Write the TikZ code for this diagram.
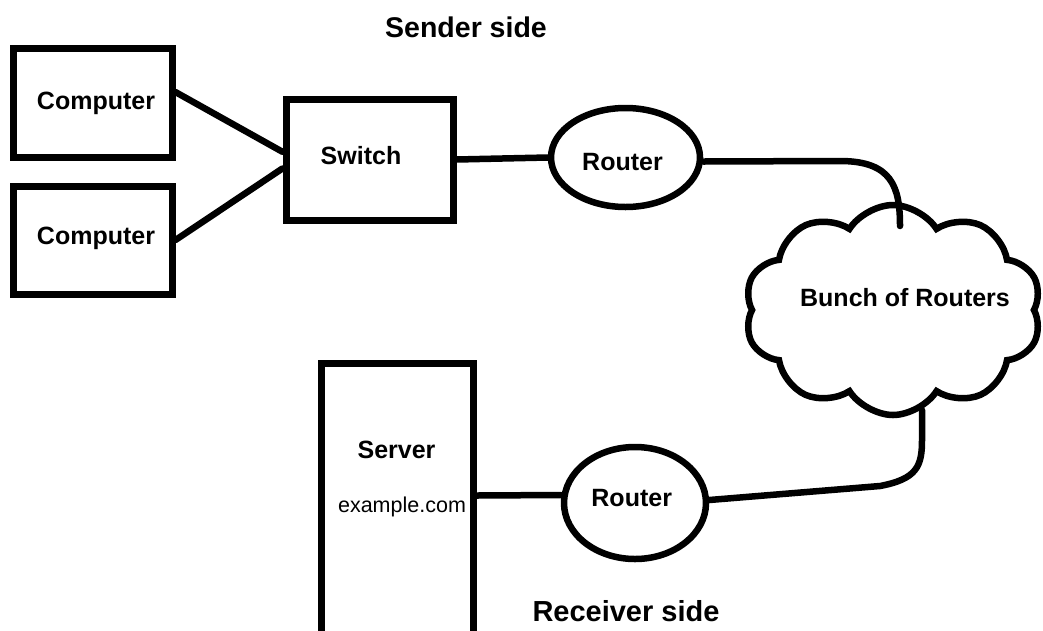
\documentclass[tikz,border=0pt]{standalone}
\usepackage{fontspec}
\setmainfont{Liberation Sans}
\usetikzlibrary{shapes.geometric,shapes.symbols,calc}
\tikzset{
  lbl/.style={font=\bfseries\fontsize{25}{29}\selectfont},
  boxnode/.style={draw, line width=7pt, rectangle, inner sep=0pt},
  routernode/.style={draw, line width=6.5pt, ellipse, inner sep=0pt},
  wire/.style={line width=6.5pt, line cap=round, line join=round},
  heading/.style={font=\bfseries\fontsize{28.5}{32}\selectfont, anchor=base}
}
\begin{document}
\begin{tikzpicture}[x=1pt, y=-1pt]
  \useasboundingbox (0,0) rectangle (1043,630);
  \clip (0,0) rectangle (1043,630);
  \fill[white] (0,0) rectangle (1043,630);

  % sender hosts and switch
  \node[boxnode, minimum width=159pt, minimum height=109pt,
        label={[lbl, xshift=3.5pt, yshift=-0.5pt]center:Computer}] (c1) at (92.5,102.5) {};
  \node[boxnode, minimum width=159pt, minimum height=108pt,
        label={[lbl, xshift=3.5pt, yshift=2pt]center:Computer}] (c2) at (92.5,240) {};
  \node[boxnode, minimum width=167pt, minimum height=121pt,
        label={[lbl, xshift=-8.5pt, yshift=3.5pt]center:Switch}] (sw) at (369.5,159.5) {};

  % routers
  \node[routernode, minimum width=149pt, minimum height=99pt,
        label={[lbl, xshift=-3pt, yshift=-4.5pt]center:Router}] (r1) at (625.5,157.5) {};
  \node[routernode, minimum width=142pt, minimum height=112pt,
        label={[lbl, xshift=-3.3pt, yshift=5pt]center:Router}] (r2) at (635,503) {};

  % internet cloud
  \node[cloud, draw, line width=6.5pt, cloud puffs=10, cloud puff arc=115, aspect=1.4,
        minimum width=297pt, minimum height=210pt, inner sep=0pt] (cloud) at (893,310) {};
  \node[lbl] (cloudtxt) at (905,298) {Bunch of Routers};

  % receiving server (runs past the lower edge)
  \node[boxnode, minimum width=152pt, minimum height=297pt,
        label={[lbl, xshift=-0.5pt, yshift=61.5pt]center:Server},
        label={[font=\fontsize{21.5}{25}\selectfont, xshift=5pt, yshift=4.5pt]center:example.com}] (srv) at (397,511.5) {};

  % headings
  \node[heading] (sender) at (466,37) {Sender side};
  \node[heading, font=\bfseries\fontsize{29}{33}\selectfont] (receiver) at (626,621) {Receiver side};

  % links
  \coordinate (ctop) at (900,226);
  \coordinate (cbot) at (922,410);
  \draw[wire] ($(c1.north east)!0.41!(c1.south east)$) -- ($(sw.north west)!0.44!(sw.south west)$);
  \draw[wire] (c2.east) -- ($(sw.north west)!0.57!(sw.south west)$);
  \draw[wire] (sw.east) -- (r1.west);
  \draw[wire] ([yshift=-4pt]r1.east) -- (840,161) .. controls (892,161) and (900,187) .. (ctop);
  \draw[wire] ([yshift=16pt]srv.east) -- ([yshift=8pt]r2.west);
  \draw[wire] ([yshift=3pt]r2.east) -- (880,486) .. controls (917,479) and (922,466) .. (922,440) -- (cbot);
\end{tikzpicture}
\end{document}
